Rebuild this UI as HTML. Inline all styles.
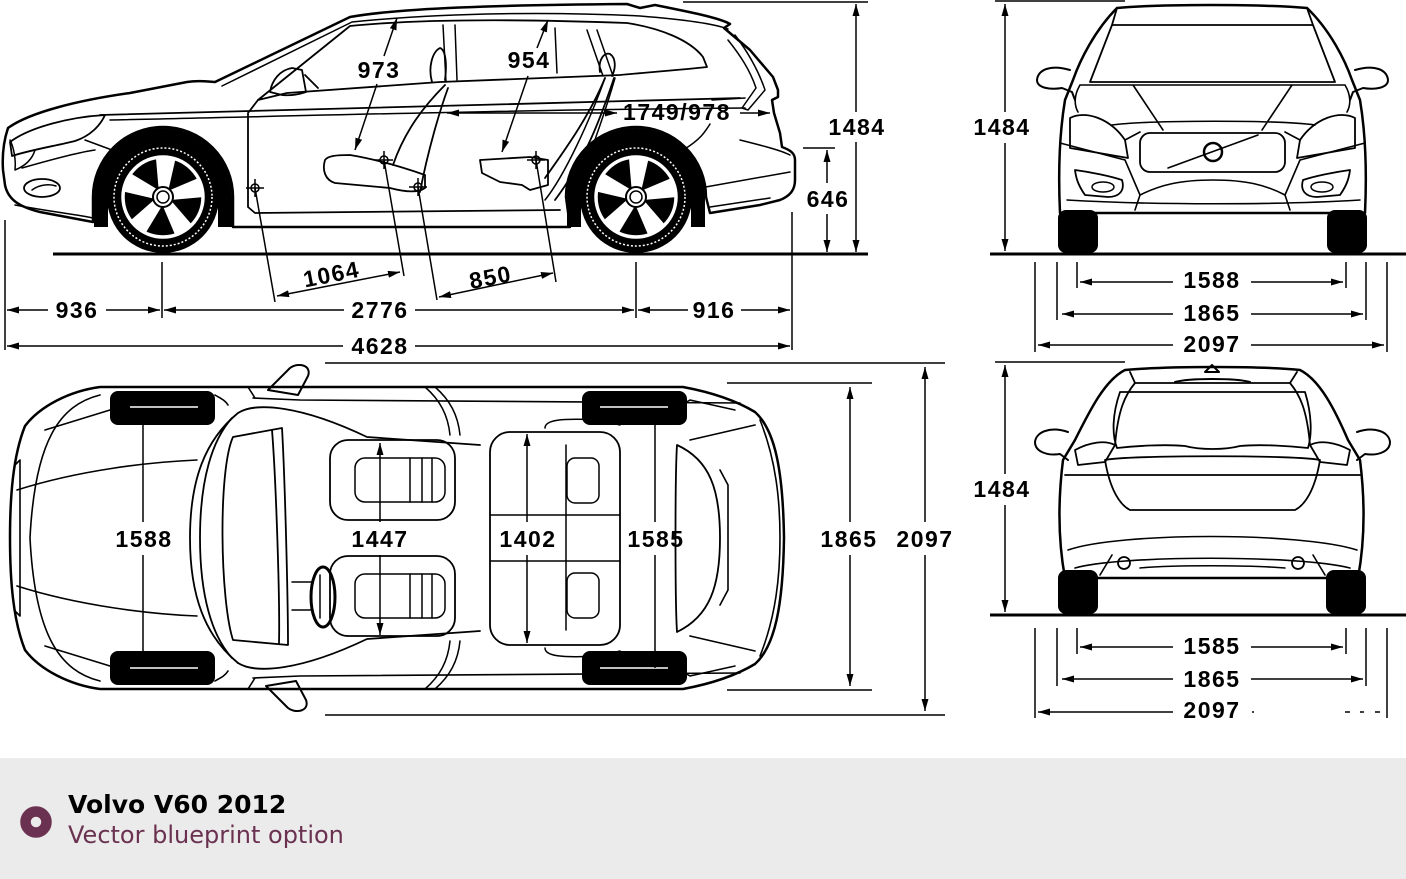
<!DOCTYPE html>
<html><head><meta charset="utf-8"><style>
html,body{margin:0;padding:0;background:#fff;}
body{width:1406px;height:879px;overflow:hidden;position:relative;}
svg{position:absolute;left:0;top:0;}
.t{font-family:"Liberation Sans",sans-serif;font-weight:bold;font-size:23px;letter-spacing:1.5px;fill:#000;text-anchor:middle;}
.ft1{font-family:"DejaVu Sans","Liberation Sans",sans-serif;font-weight:bold;font-size:25px;fill:#000;}
.ft2{font-family:"DejaVu Sans","Liberation Sans",sans-serif;font-size:24px;fill:#6a3250;}
</style></head><body>
<svg width="1406" height="879" viewBox="0 0 1406 879">
<defs>
<marker id="a" viewBox="0 0 12 7" refX="12" refY="3.5" markerWidth="12" markerHeight="7" markerUnits="userSpaceOnUse" orient="auto-start-reverse"><path d="M0,0 L12,3.5 L0,7 z" fill="#000"/></marker>
<g id="wheel">
<path d="M -62,30 L -62,0 A 62 62 0 0 1 62,0 L 62,30" stroke="#000" stroke-width="14" fill="none"/>
<circle r="56" fill="#000"/>
<circle r="49" fill="none" stroke="#fff" stroke-width="1.5" stroke-dasharray="2 2"/>
<circle r="40" fill="#000" stroke="#fff" stroke-width="3.5"/>
<g fill="#fff" transform="rotate(4)"><polygon points="-5,-8 5,-8 10,-40 -10,-40"/><polygon points="-5,-8 5,-8 10,-40 -10,-40" transform="rotate(72)"/><polygon points="-5,-8 5,-8 10,-40 -10,-40" transform="rotate(144)"/><polygon points="-5,-8 5,-8 10,-40 -10,-40" transform="rotate(216)"/><polygon points="-5,-8 5,-8 10,-40 -10,-40" transform="rotate(288)"/></g>
<circle r="10" fill="#fff" stroke="#000" stroke-width="2"/><circle r="6" fill="none" stroke="#000" stroke-width="1.5"/>
</g>
</defs>
<rect x="0" y="758" width="1406" height="121" fill="#ebebeb"/>

<!-- ================= SIDE VIEW ================= -->
<g fill="none" stroke="#000" stroke-linejoin="round" stroke-linecap="round">
<path stroke-width="2.5" d="M 8,128 C 30,112 80,100 130,93 L 187,82 C 200,80 210,82 215,82 L 350,17 C 400,8 500,5 627,4 L 640,8 L 655,5 C 690,12 720,18 730,24 L 724,28 L 750,50 L 773,77 L 778,90 L 778,97 L 772,100 L 774,113 L 780,133 L 782,147 C 790,150 795,153 795,160 L 795,180 C 795,190 790,196 780,200 L 760,205 L 710,213 L 706,197 A 70 70 0 0 0 566,197 L 570,227 L 233,227 L 233,197 A 70 70 0 0 0 93,197 L 93,222 L 40,212 C 20,207 8,200 5,185 L 3,170 C 2,155 4,140 8,128 Z"/>
<path stroke-width="1.5" d="M 222,86 L 352,22 C 450,12 560,12 640,16 C 690,20 715,24 728,29"/>
<path stroke-width="1.8" d="M 258,100 L 350,26 C 420,19 520,19 627,23 C 660,28 690,40 703,57 L 707,67 C 680,70 640,73 620,75 L 440,82 L 287,93 Z"/>
<path stroke-width="1.5" d="M 443,25 L 446,82 M 455,25 L 457,80 M 555,28 L 557,73 M 587,30 L 603,76 M 597,30 L 613,76"/>
<path stroke-width="1.8" d="M 292,68 C 280,70 272,80 270,92 L 282,95 C 292,96 300,94 306,92 L 302,70 Z M 305,75 L 318,88"/>
<path stroke-width="1.5" d="M 735,35 C 750,55 760,75 765,90 L 748,110 L 742,108 L 756,88 C 750,70 740,55 728,40 M 712,100 L 745,98"/>
<path stroke-width="1.8" d="M 100,115 C 300,110 500,103 740,98"/>
<path stroke-width="1.5" d="M 110,120 C 300,116 500,110 745,108"/>
<path stroke-width="1.8" d="M 258,100 L 248,113 L 248,207 L 255,213 L 560,210"/>
<path stroke-width="1.5" d="M 605,78 C 590,120 565,175 545,200 M 615,78 C 600,130 580,180 570,205"/>
<path stroke-width="1.5" d="M 700,188 L 790,172 M 710,207 L 770,198 M 740,140 C 760,145 780,150 790,155"/>
<path stroke-width="1.5" d="M 683,150 C 700,140 705,132 710,124"/>
<path stroke-width="1.8" d="M 10,142 C 30,127 70,117 105,115 C 100,126 90,136 75,141 C 55,146 30,150 12,156 Z"/>
<path stroke-width="1.5" d="M 10,140 C 14,148 16,160 15,170 C 25,166 32,160 35,150"/>
<ellipse cx="42" cy="188" rx="18" ry="9" stroke-width="1.8"/>
<path stroke-width="1.5" d="M 32,190 C 40,184 50,184 56,186 M 85,140 L 112,150 M 15,205 C 40,210 80,215 93,218 M 22,168 C 50,160 80,152 95,150"/>
<path stroke-width="1.8" d="M 325,160 C 322,170 325,180 335,183 L 390,188 C 405,192 418,193 425,188 L 425,175 C 405,168 380,160 350,155 C 335,155 328,156 325,160 Z"/>
<path stroke-width="1.8" d="M 393,165 C 405,130 425,105 445,85 M 420,192 C 428,150 440,110 448,88 M 432,82 C 428,68 432,52 440,48 C 446,50 447,65 445,80"/>
<path stroke-width="1.8" d="M 480,160 L 482,173 L 500,182 L 522,185 L 530,190 L 548,185 L 548,160 L 530,157 Z"/>
<path stroke-width="1.8" d="M 545,178 C 565,150 590,115 605,78 M 555,200 C 585,160 600,120 614,78 M 600,72 C 598,60 604,52 610,54 C 616,58 616,68 612,76"/>
</g>
<use href="#wheel" transform="translate(163,197)"/>
<use href="#wheel" transform="translate(636,197)"/>
<g fill="none" stroke="#000" stroke-width="1.5">
<circle cx="255" cy="188" r="4"/><path d="M 246,188 L 264,188 M 255,179 L 255,197"/>
<circle cx="384" cy="160" r="4"/><path d="M 375,160 L 393,160 M 384,151 L 384,169"/>
<circle cx="418" cy="187" r="4"/><path d="M 409,187 L 427,187 M 418,178 L 418,196"/>
<circle cx="536" cy="160" r="4"/><path d="M 527,160 L 545,160 M 536,151 L 536,169"/>
</g>
<g fill="none" stroke="#000" stroke-width="1.5">
<line x1="53" y1="254" x2="868" y2="254" stroke-width="3"/>
<line x1="5" y1="220" x2="5" y2="350"/>
<line x1="162" y1="262" x2="162" y2="318"/>
<line x1="636" y1="262" x2="636" y2="318"/>
<line x1="792" y1="212" x2="792" y2="350"/>
<line x1="683" y1="2" x2="868" y2="2"/>
<line x1="803" y1="148" x2="835" y2="148"/>
<line x1="7" y1="310" x2="48" y2="310" marker-start="url(#a)"/>
<line x1="106" y1="310" x2="160" y2="310" marker-end="url(#a)"/>
<line x1="164" y1="310" x2="344" y2="310" marker-start="url(#a)"/>
<line x1="415" y1="310" x2="634" y2="310" marker-end="url(#a)"/>
<line x1="638" y1="310" x2="688" y2="310" marker-start="url(#a)"/>
<line x1="741" y1="310" x2="790" y2="310" marker-end="url(#a)"/>
<line x1="7" y1="346" x2="343" y2="346" marker-start="url(#a)"/>
<line x1="415" y1="346" x2="790" y2="346" marker-end="url(#a)"/>
<line x1="856" y1="4" x2="856" y2="112" marker-start="url(#a)"/>
<line x1="856" y1="142" x2="856" y2="252" marker-end="url(#a)"/>
<line x1="827" y1="150" x2="827" y2="183" marker-start="url(#a)"/>
<line x1="827" y1="214" x2="827" y2="252" marker-end="url(#a)"/>
<line x1="355" y1="150" x2="377" y2="84" marker-start="url(#a)"/>
<line x1="384" y1="56" x2="397" y2="18" marker-end="url(#a)"/>
<line x1="502" y1="152" x2="528" y2="76" marker-start="url(#a)"/>
<line x1="537" y1="48" x2="548" y2="20" marker-end="url(#a)"/>
<line x1="447" y1="113" x2="617" y2="113" marker-start="url(#a)"/>
<path d="M 617,113 L 605,109.5 L 605,116.5 Z" fill="#000" stroke="none"/>
<line x1="740" y1="113" x2="770" y2="113" marker-end="url(#a)"/>
<line x1="255" y1="188" x2="275" y2="302"/>
<line x1="384" y1="160" x2="404" y2="276"/>
<line x1="277" y1="296" x2="400" y2="272" marker-start="url(#a)" marker-end="url(#a)"/>
<line x1="418" y1="187" x2="437" y2="300"/>
<line x1="536" y1="160" x2="556" y2="282"/>
<line x1="439" y1="297" x2="553" y2="273" marker-start="url(#a)" marker-end="url(#a)"/>
</g>
<text class="t" x="77" y="318">936</text>
<text class="t" x="380" y="318">2776</text>
<text class="t" x="714" y="318">916</text>
<text class="t" x="380" y="354">4628</text>
<text class="t" x="857" y="135">1484</text>
<text class="t" x="828" y="207">646</text>
<text class="t" x="379" y="78">973</text>
<text class="t" x="529" y="68">954</text>
<text class="t" x="677" y="120">1749/978</text>
<text class="t" transform="translate(333,282) rotate(-11)">1064</text>
<text class="t" transform="translate(492,285) rotate(-11)">850</text>

<!-- ================= TOP VIEW ================= -->
<g fill="none" stroke="#000" stroke-linejoin="round" stroke-linecap="round">
<path stroke-width="2.5" d="M 100,387 L 683,387 C 710,392 735,400 755,412 C 775,430 783,470 784,538 C 783,606 775,646 755,664 C 735,676 710,684 683,689 L 100,689 C 70,685 40,670 25,650 C 13,620 10,580 10,538 C 10,496 13,456 25,426 C 40,406 70,391 100,387 Z"/>
<path stroke-width="1.6" d="M 100,395 C 60,405 35,440 30,538 C 35,636 60,671 100,681"/>
<path stroke-width="1.6" d="M 15,465 L 20,460 L 20,616 L 15,611"/>
<path stroke-width="1.6" d="M 17,490 C 80,470 150,462 197,460 M 17,586 C 80,606 150,614 197,616"/>
<path stroke-width="1.6" d="M 45,430 L 110,410 M 45,646 L 110,666 M 215,395 C 220,398 225,400 228,405 M 215,681 C 220,678 225,676 228,671"/>
<path stroke-width="1.8" d="M 238,413 C 205,440 190,480 190,538 C 190,596 205,636 238,663"/>
<path stroke-width="1.8" d="M 232,418 C 212,440 200,480 200,538 C 200,596 212,636 232,658"/>
<path stroke-width="1.8" d="M 233,437 L 282,428 C 285,480 288,600 288,645 L 233,640 C 220,600 218,470 233,437 Z M 272,430 C 276,480 280,600 279,643"/>
<path stroke-width="1.8" d="M 238,413 C 255,402 300,405 367,437 L 480,445 M 238,663 C 255,674 300,671 367,639 L 480,631"/>
<path stroke-width="1.6" d="M 253,398 L 300,400 L 740,403 M 253,678 L 300,676 L 740,673 M 248,387 L 255,398 M 248,689 L 255,678"/>
<path stroke-width="1.5" d="M 425,387 C 440,400 448,415 450,435 M 435,387 C 450,400 458,415 460,435 M 425,689 C 440,676 448,661 450,641 M 435,689 C 450,676 458,661 460,641"/>
<path stroke-width="2" d="M 268,390 L 290,368 C 298,362 312,365 308,376 L 298,395 Z"/>
<path stroke-width="2" d="M 266,686 L 288,708 C 296,714 310,711 306,700 L 296,681 Z"/>
<rect x="330" y="440" width="125" height="80" rx="18" stroke-width="1.8"/>
<rect x="355" y="458" width="90" height="44" rx="10" stroke-width="1.5"/>
<path stroke-width="1.5" d="M 410,458 L 410,502 M 422,458 L 422,502 M 432,458 L 432,502"/>
<rect x="330" y="556" width="125" height="80" rx="18" stroke-width="1.8"/>
<rect x="355" y="574" width="90" height="44" rx="10" stroke-width="1.5"/>
<path stroke-width="1.5" d="M 410,574 L 410,618 M 422,574 L 422,618 M 432,574 L 432,618"/>
<ellipse cx="323" cy="597" rx="12" ry="30" stroke-width="3"/>
<path stroke-width="1.5" d="M 320,575 L 320,618 M 292,582 L 312,582 M 292,610 L 312,610"/>
<rect x="490" y="432" width="130" height="213" rx="20" stroke-width="1.8"/>
<path stroke-width="1.5" d="M 490,515 L 620,515 M 490,561 L 620,561 M 566,445 L 566,630"/>
<rect x="567" y="458" width="32" height="45" rx="8" stroke-width="1.5"/>
<rect x="567" y="573" width="32" height="45" rx="8" stroke-width="1.5"/>
<path stroke-width="1.5" d="M 545,428 C 545,420 560,418 600,420 L 620,425 M 545,648 C 545,656 560,658 600,656 L 620,651"/>
<path stroke-width="1.8" d="M 677,445 C 710,460 720,490 720,538 C 720,586 710,616 677,632 C 675,600 675,476 677,445 Z"/>
<path stroke-width="1.6" d="M 690,440 L 755,425 M 690,636 L 755,651 M 760,420 C 776,460 780,500 780,538 C 780,576 776,616 760,656 M 720,470 L 728,485 L 728,590 L 720,605"/>
<path stroke-width="1.5" d="M 655,420 L 690,400 L 735,410 M 655,656 L 690,676 L 735,666"/>
</g>
<g fill="#000">
<rect x="110" y="391" width="105" height="34" rx="8"/>
<rect x="110" y="651" width="105" height="34" rx="8"/>
<rect x="582" y="391" width="105" height="34" rx="8"/>
<rect x="582" y="651" width="105" height="34" rx="8"/>
</g>
<g stroke="#fff" stroke-width="1.5"><line x1="130" y1="407" x2="198" y2="407"/><line x1="130" y1="668" x2="198" y2="668"/><line x1="600" y1="407" x2="668" y2="407"/><line x1="600" y1="668" x2="668" y2="668"/></g>
<g fill="none" stroke="#000" stroke-width="1.5">
<line x1="325" y1="363" x2="945" y2="363"/>
<line x1="325" y1="715" x2="945" y2="715"/>
<line x1="727" y1="383" x2="872" y2="383"/>
<line x1="727" y1="690" x2="872" y2="690"/>
<line x1="143" y1="412" x2="143" y2="522" marker-start="url(#a)"/>
<line x1="143" y1="555" x2="143" y2="667" marker-end="url(#a)"/>
<line x1="380" y1="443" x2="380" y2="522" marker-start="url(#a)"/>
<line x1="380" y1="555" x2="380" y2="635" marker-end="url(#a)"/>
<line x1="527" y1="434" x2="527" y2="522" marker-start="url(#a)"/>
<line x1="527" y1="555" x2="527" y2="643" marker-end="url(#a)"/>
<line x1="655" y1="410" x2="655" y2="522" marker-start="url(#a)"/>
<line x1="655" y1="555" x2="655" y2="668" marker-end="url(#a)"/>
<line x1="850" y1="387" x2="850" y2="522" marker-start="url(#a)"/>
<line x1="850" y1="555" x2="850" y2="686" marker-end="url(#a)"/>
<line x1="925" y1="367" x2="925" y2="522" marker-start="url(#a)"/>
<line x1="925" y1="555" x2="925" y2="711" marker-end="url(#a)"/>
</g>
<text class="t" x="144" y="547">1588</text>
<text class="t" x="380" y="547">1447</text>
<text class="t" x="528" y="547">1402</text>
<text class="t" x="656" y="547">1585</text>
<text class="t" x="849" y="547">1865</text>
<text class="t" x="925" y="547">2097</text>

<!-- ================= FRONT VIEW ================= -->
<g fill="none" stroke="#000" stroke-linejoin="round" stroke-linecap="round">
<path stroke-width="2.5" d="M 1117,8 C 1160,4 1260,4 1307,8 C 1330,30 1345,60 1352,80 L 1360,100 C 1365,130 1367,170 1365,213 L 1060,213 C 1058,170 1060,130 1065,100 L 1073,80 C 1080,60 1095,30 1117,8 Z"/>
<path stroke-width="1.8" d="M 1112,25 L 1313,25 L 1335,82 L 1090,82 Z M 1117,8 L 1112,25 M 1307,8 L 1313,25"/>
<path stroke-width="1.6" d="M 1080,85 L 1345,85 M 1133,85 L 1163,130 M 1292,85 L 1262,130 M 1112,125 C 1150,120 1280,120 1315,125 M 1080,85 C 1074,95 1074,105 1078,112 M 1345,85 C 1351,95 1351,105 1347,112"/>
<path stroke-width="1.8" d="M 1070,118 C 1085,110 1110,118 1125,140 L 1128,158 L 1070,148 Z M 1355,118 C 1340,110 1315,118 1300,140 L 1297,158 L 1355,148 Z"/>
<path stroke-width="1.6" d="M 1060,143 L 1125,160 L 1140,195 M 1365,143 L 1300,160 L 1285,195 M 1125,140 L 1140,132 M 1300,140 L 1285,132"/>
<rect x="1140" y="133" width="145" height="39" rx="10" stroke-width="1.8"/>
<path stroke-width="1.6" d="M 1168,168 L 1258,135"/>
<circle cx="1213" cy="152" r="9" stroke-width="2.5"/>
<path stroke-width="1.6" d="M 1140,195 C 1160,185 1180,180 1213,180 C 1246,180 1266,185 1285,195 M 1135,210 L 1140,195 M 1290,210 L 1285,195"/>
<path stroke-width="1.6" d="M 1067,200 C 1150,205 1280,205 1360,200"/>
<path stroke-width="1.8" d="M 1075,170 C 1090,172 1110,176 1122,180 C 1125,190 1120,197 1108,197 L 1085,195 C 1078,185 1076,178 1075,170 Z M 1350,170 C 1335,172 1315,176 1303,180 C 1300,190 1305,197 1317,197 L 1340,195 C 1347,185 1349,178 1350,170 Z"/>
<ellipse cx="1103" cy="187" rx="11" ry="5" stroke-width="1.5"/>
<ellipse cx="1322" cy="187" rx="11" ry="5" stroke-width="1.5"/>
<path stroke-width="2" d="M 1070,70 C 1050,64 1038,70 1037,80 C 1037,88 1050,90 1062,88 L 1072,92 L 1075,100 M 1355,70 C 1375,64 1387,70 1388,80 C 1388,88 1375,90 1363,88 L 1353,92 L 1350,100"/>
</g>
<g fill="#000">
<rect x="1058" y="210" width="40" height="43" rx="8"/>
<rect x="1327" y="210" width="40" height="43" rx="8"/>
</g>
<g fill="none" stroke="#000" stroke-width="1.5">
<line x1="990" y1="254" x2="1406" y2="254" stroke-width="3"/>
<line x1="995" y1="1" x2="1125" y2="1"/>
<line x1="1005" y1="4" x2="1005" y2="112" marker-start="url(#a)"/>
<line x1="1005" y1="143" x2="1005" y2="251" marker-end="url(#a)"/>
<line x1="1035" y1="262" x2="1035" y2="352"/>
<line x1="1057" y1="262" x2="1057" y2="320"/>
<line x1="1077" y1="262" x2="1077" y2="288"/>
<line x1="1346" y1="262" x2="1346" y2="288"/>
<line x1="1366" y1="262" x2="1366" y2="320"/>
<line x1="1387" y1="262" x2="1387" y2="352"/>
<line x1="1080" y1="282" x2="1173" y2="282" marker-start="url(#a)"/>
<line x1="1251" y1="282" x2="1343" y2="282" marker-end="url(#a)"/>
<line x1="1062" y1="314" x2="1173" y2="314" marker-start="url(#a)"/>
<line x1="1251" y1="314" x2="1363" y2="314" marker-end="url(#a)"/>
<line x1="1038" y1="345" x2="1173" y2="345" marker-start="url(#a)"/>
<line x1="1251" y1="345" x2="1384" y2="345" marker-end="url(#a)"/>
</g>
<text class="t" x="1002" y="135">1484</text>
<text class="t" x="1212" y="288">1588</text>
<text class="t" x="1212" y="321">1865</text>
<text class="t" x="1212" y="352">2097</text>

<!-- ================= REAR VIEW ================= -->
<g fill="none" stroke="#000" stroke-linejoin="round" stroke-linecap="round">
<path stroke-width="2.5" d="M 1125,370 C 1170,366 1260,366 1300,370 C 1320,380 1335,410 1348,440 L 1360,460 C 1365,500 1365,540 1358,578 L 1065,578 C 1058,540 1058,500 1063,460 L 1075,440 C 1090,410 1105,380 1125,370 Z"/>
<path stroke-width="1.8" d="M 1130,372 L 1135,383 L 1290,383 L 1297,372 M 1135,383 C 1125,395 1118,410 1115,445 M 1290,383 C 1300,395 1307,410 1310,445"/>
<path stroke-width="2" d="M 1205,372 L 1212,365 L 1219,372 Z M 1175,382 C 1190,378 1235,378 1250,382"/>
<path stroke-width="1.8" d="M 1120,392 L 1305,392 C 1312,415 1312,435 1308,448 C 1290,446 1260,444 1240,446 C 1225,450 1200,450 1185,446 C 1165,444 1135,446 1117,448 C 1112,435 1112,415 1120,392 Z"/>
<path stroke-width="1.8" d="M 1105,460 C 1110,490 1120,505 1130,510 L 1295,510 C 1305,505 1315,490 1320,460 C 1300,455 1125,455 1105,460 Z"/>
<path stroke-width="1.8" d="M 1075,450 C 1090,442 1105,440 1115,445 L 1105,462 L 1078,465 Z M 1350,450 C 1335,442 1320,440 1310,445 L 1320,462 L 1347,465 Z M 1065,475 L 1360,475"/>
<path stroke-width="1.6" d="M 1068,550 C 1120,532 1300,532 1357,550 M 1075,568 C 1120,555 1300,555 1350,568 M 1100,575 L 1112,555 M 1325,575 L 1313,555 M 1140,568 C 1170,565 1250,565 1285,568"/>
<circle cx="1124" cy="563" r="6" stroke-width="1.8"/>
<circle cx="1298" cy="563" r="6" stroke-width="1.8"/>
<path stroke-width="2" d="M 1068,432 C 1050,426 1036,432 1035,442 C 1035,452 1048,456 1060,454 L 1068,460 M 1357,432 C 1375,426 1389,432 1390,442 C 1390,452 1377,456 1365,454 L 1357,460"/>
</g>
<g fill="#000">
<rect x="1058" y="570" width="40" height="44" rx="8"/>
<rect x="1326" y="570" width="40" height="44" rx="8"/>
</g>
<g fill="none" stroke="#000" stroke-width="1.5">
<line x1="990" y1="615" x2="1406" y2="615" stroke-width="3"/>
<line x1="995" y1="362" x2="1125" y2="362"/>
<line x1="1005" y1="365" x2="1005" y2="474" marker-start="url(#a)"/>
<line x1="1005" y1="505" x2="1005" y2="612" marker-end="url(#a)"/>
<line x1="1035" y1="628" x2="1035" y2="718"/>
<line x1="1057" y1="628" x2="1057" y2="686"/>
<line x1="1077" y1="628" x2="1077" y2="654"/>
<line x1="1346" y1="628" x2="1346" y2="654"/>
<line x1="1366" y1="628" x2="1366" y2="686"/>
<line x1="1387" y1="628" x2="1387" y2="718"/>
<line x1="1080" y1="647" x2="1173" y2="647" marker-start="url(#a)"/>
<line x1="1251" y1="647" x2="1343" y2="647" marker-end="url(#a)"/>
<line x1="1062" y1="679" x2="1173" y2="679" marker-start="url(#a)"/>
<line x1="1251" y1="679" x2="1363" y2="679" marker-end="url(#a)"/>
<line x1="1038" y1="712" x2="1173" y2="712" marker-start="url(#a)"/>
<path d="M 1252,712 L 1254,712 M 1345,712 L 1350,712 M 1360,712 L 1364,712 M 1375,712 L 1380,712" stroke-width="1.5"/>
</g>
<text class="t" x="1002" y="497">1484</text>
<text class="t" x="1212" y="654">1585</text>
<text class="t" x="1212" y="687">1865</text>
<text class="t" x="1212" y="718">2097</text>

<!-- footer -->
<circle cx="36" cy="822" r="10.5" fill="none" stroke="#6a3250" stroke-width="10.5"/>
<text class="ft1" x="68" y="813">Volvo V60 2012</text>
<text class="ft2" x="68" y="843">Vector blueprint option</text>
</svg>
</body></html>
